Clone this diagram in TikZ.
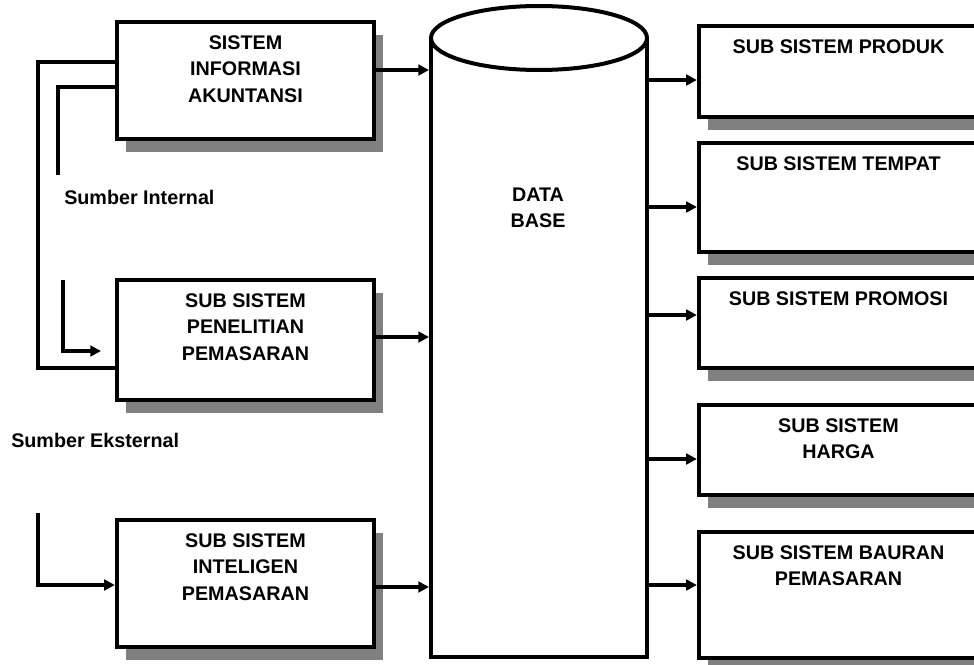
\documentclass[tikz,border=0pt]{standalone}
\usepackage{fontspec}
\setmainfont{Liberation Sans}
\usetikzlibrary{arrows.meta, positioning, shadows}
\tikzset{%
	box/.style={draw, line width=3.2pt, rectangle, fill=white, inner sep=0mm,%
		drop shadow={shadow xshift=7pt, shadow yshift=-9.5pt, fill=black!50, opacity=1}},
	lbox/.style={box, minimum width=192.75pt},
	rbox/.style={box, minimum width=209.25pt},
	dbbox/.style={draw, line width=3pt, rectangle, inner sep=0mm, minimum width=162pt, minimum height=462.75pt},
	txt/.style={font=\fontsize{14.8pt}{19.9pt}\selectfont\bfseries, inner sep=0mm, align=center},
	boxtext/.style={label={[txt, anchor=north, yshift=-11.4pt]90:#1}},
	connector/.style={line width=2.8pt},
	sel/.style={connector, -{Triangle[length=8pt, width=8pt]}}
}
\begin{document}
\begin{tikzpicture}[x=0.75pt, y=-0.75pt]
	\useasboundingbox (0,0) rectangle (974,664);
	\clip (0,0) rectangle (974,664);

	\node[lbox, minimum height=87.75pt, boxtext={SISTEM\\INFORMASI\\AKUNTANSI}] (sia) at (245.5,80.5) {};
	\node[lbox, minimum height=90pt, boxtext={SUB SISTEM\\PENELITIAN\\PEMASARAN}] (penelitian) at (245.5,340) {};
	\node[lbox, minimum height=95.25pt, boxtext={SUB SISTEM\\INTELIGEN\\PEMASARAN}] (inteligen) at (245.5,583.5) {};

	\node[rbox, minimum height=68.25pt, boxtext={SUB SISTEM PRODUK}] (produk) at (838.5,71.5) {};
	\node[rbox, minimum height=81.75pt, boxtext={SUB SISTEM TEMPAT}] (tempat) at (838.5,197.5) {};
	\node[rbox, minimum height=67.5pt, boxtext={SUB SISTEM PROMOSI}] (promosi) at (838.5,323) {};
	\node[rbox, minimum height=67.5pt, boxtext={SUB SISTEM\\HARGA}] (harga) at (838.5,450) {};
	\node[rbox, minimum height=94.5pt, boxtext={SUB SISTEM BAURAN\\PEMASARAN}] (bauran) at (838.5,595) {};

	\node[dbbox] (db) at (539,348.5) {};
	\draw[line width=3pt, fill=white] (db.north) ellipse [x radius=108, y radius=32];
	\node[txt] (dbtext) at (538,208) {DATA\\BASE};

	\node[txt, anchor=west] (srcint) at (64,197) {Sumber Internal};
	\node[txt, anchor=west] (srcext) at (11,440) {Sumber Eksternal};

	\coordinate (loop) at (38,368);
	\coordinate (intend) at (58,175);
	\coordinate (intin) at (63,280);
	\coordinate (intout) at (101,351);
	\coordinate (extin) at (38,513);

	\draw[connector] (sia.west |- 0,62) -| (loop) -- (penelitian.west |- loop);
	\draw[connector] (sia.west |- 0,87) -| (intend);
	\draw[sel] (intin) |- (intout);
	\draw[sel] (extin) |- (inteligen.west |- 0,585);

	\draw[sel] (sia.east |- 0,70) -- (db.west |- 0,70);
	\draw[sel] (penelitian.east |- 0,337) -- (db.west |- 0,337);
	\draw[sel] (inteligen.east |- 0,587) -- (db.west |- 0,587);

	\draw[sel] (db.east |- 0,80) -- (produk.west |- 0,80);
	\draw[sel] (db.east |- 0,207) -- (tempat.west |- 0,207);
	\draw[sel] (db.east |- 0,315) -- (promosi.west |- 0,315);
	\draw[sel] (db.east |- 0,459) -- (harga.west |- 0,459);
	\draw[sel] (db.east |- 0,585) -- (bauran.west |- 0,585);
\end{tikzpicture}
\end{document}
